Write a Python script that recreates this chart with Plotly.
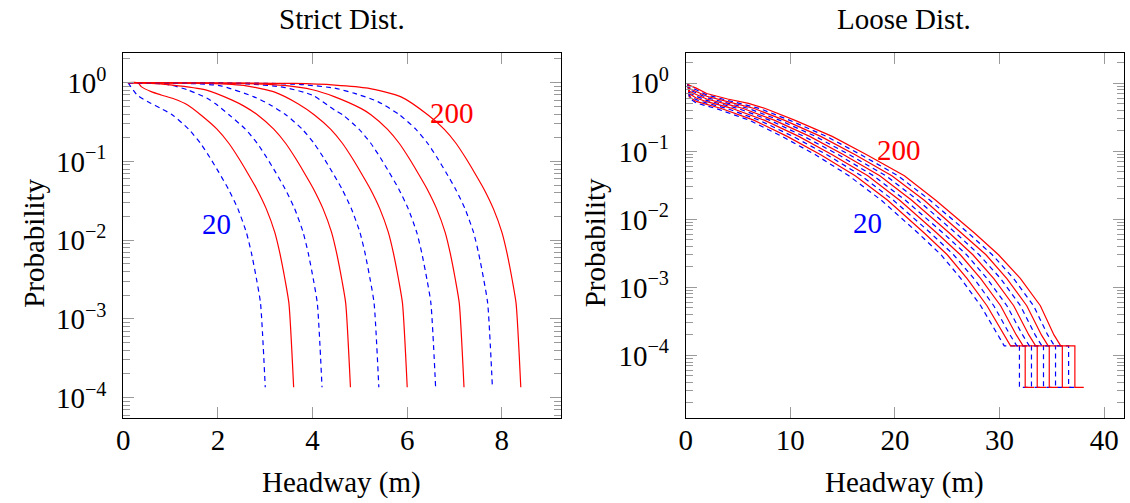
import plotly.graph_objects as go

RED = "#ff0000"
BLUE = "#0000ff"
FONT = "Liberation Serif, DejaVu Serif, serif"
FS = 29

# ---------------- Strict Dist. (left) ----------------
strict_n20_x = [0.1, 0.3, 0.55, 0.8, 1.04, 1.38, 1.63, 1.83, 2.02, 2.22, 2.42, 2.60, 2.71, 2.82, 2.90, 3.0]
strict_n20_y = [1.0, 0.69, 0.56, 0.47, 0.389, 0.257, 0.170, 0.112, 0.0724, 0.0447, 0.0251, 0.0126, 0.00676, 0.00309, 0.00158, 0.000135]

strict_n40_x = [0.1, 0.31, 0.38, 0.59, 0.80, 1.08, 1.36, 1.64, 1.98, 2.23, 2.43, 2.62, 2.82, 3.02, 3.2, 3.31, 3.42, 3.5, 3.6]
strict_n40_y = [1.0, 1.0, 0.891, 0.769, 0.698, 0.621, 0.521, 0.389, 0.257, 0.170, 0.112, 0.0724, 0.0447, 0.0251, 0.0126, 0.00676, 0.00309, 0.00158, 0.000135]

strict_n60_x = [0.1, 0.6, 1.0, 1.36, 1.78, 1.95, 2.24, 2.58, 2.83, 3.03, 3.22, 3.42, 3.62, 3.8, 3.91, 4.02, 4.1, 4.2]
strict_n60_y = [1.0, 0.989, 0.933, 0.81, 0.63, 0.54, 0.389, 0.257, 0.170, 0.112, 0.0724, 0.0447, 0.0251, 0.0126, 0.00676, 0.00309, 0.00158, 0.000135]

strict_n80_x = [0.1, 0.5, 1.04, 1.74, 2.30, 2.56, 2.84, 3.18, 3.43, 3.63, 3.82, 4.02, 4.22, 4.4, 4.51, 4.62, 4.7, 4.8]
strict_n80_y = [1.0, 0.989, 0.933, 0.81, 0.60, 0.50, 0.389, 0.257, 0.170, 0.112, 0.0724, 0.0447, 0.0251, 0.0126, 0.00676, 0.00309, 0.00158, 0.000135]

strict_n100_x = [0.1, 1.4, 2.06, 2.76, 3.1, 3.44, 3.78, 4.03, 4.23, 4.42, 4.62, 4.82, 5.0, 5.11, 5.22, 5.3, 5.4]
strict_n100_y = [1.0, 0.977, 0.912, 0.661, 0.525, 0.389, 0.257, 0.170, 0.112, 0.0724, 0.0447, 0.0251, 0.0126, 0.00676, 0.00309, 0.00158, 0.000135]

strict_n120_x = [0.1, 1.8, 2.6, 3.2, 3.7, 4.04, 4.38, 4.63, 4.83, 5.02, 5.22, 5.42, 5.6, 5.71, 5.82, 5.9, 6.0]
strict_n120_y = [1.0, 0.977, 0.912, 0.759, 0.537, 0.389, 0.257, 0.170, 0.112, 0.0724, 0.0447, 0.0251, 0.0126, 0.00676, 0.00309, 0.00158, 0.000135]

strict_n140_x = [0.1, 2.6, 3.4, 4.0, 4.47, 4.64, 4.98, 5.23, 5.43, 5.62, 5.82, 6.02, 6.2, 6.31, 6.42, 6.5, 6.6]
strict_n140_y = [1.0, 0.966, 0.871, 0.692, 0.447, 0.389, 0.257, 0.170, 0.112, 0.0724, 0.0447, 0.0251, 0.0126, 0.00676, 0.00309, 0.00158, 0.000135]

strict_n160_x = [0.1, 2.5, 3.4, 4.0, 4.47, 5.03, 5.24, 5.58, 5.83, 6.03, 6.22, 6.42, 6.62, 6.8, 6.91, 7.02, 7.1, 7.2]
strict_n160_y = [1.0, 0.977, 0.923, 0.813, 0.661, 0.468, 0.389, 0.257, 0.170, 0.112, 0.0724, 0.0447, 0.0251, 0.0126, 0.00676, 0.00309, 0.00158, 0.000135]

strict_n180_x = [0.1, 3.0, 3.8, 4.47, 4.89, 5.38, 5.84, 6.18, 6.43, 6.63, 6.82, 7.02, 7.22, 7.4, 7.51, 7.62, 7.7, 7.8]
strict_n180_y = [1.0, 0.982, 0.944, 0.851, 0.731, 0.575, 0.389, 0.257, 0.170, 0.112, 0.0724, 0.0447, 0.0251, 0.0126, 0.00676, 0.00309, 0.00158, 0.000135]

strict_n200_x = [0.1, 3.6, 4.47, 5.17, 5.87, 6.44, 6.78, 7.03, 7.23, 7.42, 7.62, 7.82, 8.0, 8.11, 8.22, 8.3, 8.4]
strict_n200_y = [1.0, 0.977, 0.933, 0.851, 0.661, 0.389, 0.257, 0.170, 0.112, 0.0724, 0.0447, 0.0251, 0.0126, 0.00676, 0.00309, 0.00158, 0.000135]

# ---------------- Loose Dist. (right) ----------------
loose_head_x = [0.19, 0.35, 1.0, 2.0]
loose_head_x4 = [0.19, 0.35, 1.0, 2.0, 4.0]
loose_head_x6 = [0.19, 0.35, 1.0, 2.0, 4.0, 6.0]
loose_body_p = [0.427, 0.288, 0.166, 0.0891, 0.0437, 0.0191, 0.00631, 0.00302, 0.00135,
                0.000537, 0.000200, 0.000138, 0.000138, 0.0000339, 0.0000339]

loose_n20_hp = [1.0, 0.603, 0.513, 0.462]
loose_n20_bx = [2.9, 6.05, 9.2, 12.4, 15.6, 18.7, 22.2, 24.4, 26.3, 28.2, 29.8, 30.45, 31.9, 31.9, 32.75]
loose_n40_hp = [1.0, 0.631, 0.543, 0.490]
loose_n40_bx = [3.4, 6.5, 9.7, 12.9, 16.2, 19.3, 22.8, 25.0, 26.9, 28.8, 30.4, 31.05, 32.45, 32.45, 33.3]
loose_n60_hp = [1.0, 0.661, 0.575, 0.513]
loose_n60_bx = [3.95, 7.0, 10.25, 13.5, 16.8, 19.85, 23.4, 25.6, 27.55, 29.45, 31.0, 31.65, 33.05, 33.05, 33.9]
loose_n80_hp = [1.0, 0.700, 0.610, 0.537, 0.447]
loose_n80_bx = [4.45, 7.5, 10.8, 14.0, 17.4, 20.45, 24.0, 26.25, 28.2, 30.1, 31.6, 32.25, 33.6, 33.6, 34.45]
loose_n100_hp = [1.0, 0.733, 0.646, 0.562, 0.468]
loose_n100_bx = [5.0, 8.0, 11.3, 14.6, 17.95, 21.0, 24.6, 26.85, 28.8, 30.7, 32.2, 32.85, 34.2, 34.2, 35.05]
loose_n120_hp = [1.0, 0.767, 0.684, 0.589, 0.490]
loose_n120_bx = [5.5, 8.45, 11.85, 15.1, 18.55, 21.6, 25.2, 27.45, 29.45, 31.35, 32.8, 33.45, 34.75, 34.75, 35.6]
loose_n140_hp = [1.0, 0.804, 0.724, 0.617, 0.513]
loose_n140_bx = [6.0, 8.95, 12.4, 15.65, 19.15, 22.2, 25.8, 28.05, 30.1, 32.0, 33.4, 34.05, 35.35, 35.35, 36.2]
loose_n160_hp = [1.0, 0.841, 0.759, 0.646, 0.537]
loose_n160_bx = [6.55, 9.4, 12.9, 16.2, 19.7, 22.8, 26.4, 28.7, 30.7, 32.6, 34.0, 34.65, 36.0, 36.0, 36.85]
loose_n180_hp = [1.0, 0.891, 0.804, 0.676, 0.562, 0.468]
loose_n180_bx = [7.05, 9.9, 13.45, 16.75, 20.3, 23.35, 27.0, 29.3, 31.35, 33.25, 34.6, 35.25, 36.6, 36.6, 37.45]
loose_n200_hp = [1.0, 0.933, 0.851, 0.708, 0.589, 0.507]
loose_n200_bx = [7.6, 10.4, 14.0, 17.3, 20.9, 23.9, 27.6, 29.9, 32.0, 33.9, 35.2, 35.85, 37.2, 37.2, 38.05]

strict_series = [
    (strict_n20_x, strict_n20_y, BLUE), (strict_n40_x, strict_n40_y, RED),
    (strict_n60_x, strict_n60_y, BLUE), (strict_n80_x, strict_n80_y, RED),
    (strict_n100_x, strict_n100_y, BLUE), (strict_n120_x, strict_n120_y, RED),
    (strict_n140_x, strict_n140_y, BLUE), (strict_n160_x, strict_n160_y, RED),
    (strict_n180_x, strict_n180_y, BLUE), (strict_n200_x, strict_n200_y, RED),
]
loose_series = [
    (loose_head_x, loose_n20_hp, loose_n20_bx, BLUE), (loose_head_x, loose_n40_hp, loose_n40_bx, RED),
    (loose_head_x, loose_n60_hp, loose_n60_bx, BLUE), (loose_head_x4, loose_n80_hp, loose_n80_bx, RED),
    (loose_head_x4, loose_n100_hp, loose_n100_bx, BLUE), (loose_head_x4, loose_n120_hp, loose_n120_bx, RED),
    (loose_head_x4, loose_n140_hp, loose_n140_bx, BLUE), (loose_head_x4, loose_n160_hp, loose_n160_bx, RED),
    (loose_head_x6, loose_n180_hp, loose_n180_bx, BLUE), (loose_head_x6, loose_n200_hp, loose_n200_bx, RED),
]

def style(color):
    if color == BLUE:
        return dict(color=color, width=1.2, dash="5px,4px")
    return dict(color=color, width=1.2)

fig = go.Figure()
for xs, ys, c in strict_series:
    fig.add_trace(go.Scatter(x=xs, y=ys, mode="lines", xaxis="x", yaxis="y",
                             line=dict(shape="spline", smoothing=0.6, **style(c)),
                             showlegend=False, hoverinfo="skip"))
for hx, hp, bx, c in loose_series:
    fig.add_trace(go.Scatter(x=hx + bx, y=hp + loose_body_p, mode="lines", xaxis="x2", yaxis="y2",
                             line=style(c), showlegend=False, hoverinfo="skip"))

W, H = 1130, 503
def px_x(p):
    return p / W
def px_y(p):
    return 1 - p / H

decades = [1e-4, 1e-3, 1e-2, 1e-1, 1]
decade_text = ["10<sup>−4</sup>", "10<sup>−3</sup>", "10<sup>−2</sup>", "10<sup>−1</sup>", "10<sup>0</sup>"]
minor_vals = [m * 10.0 ** e for e in range(-6, 1) for m in range(2, 10)]

TICKC = "#9a9a9a"
common_x = dict(showline=True, linecolor="black", linewidth=1, mirror="allticks",
                ticks="inside", ticklen=11, tickcolor=TICKC, tickwidth=1,
                showgrid=False, zeroline=False, tickfont=dict(family=FONT, size=FS, color="black"),
                ticklabelstandoff=-4)
common_y = dict(showline=True, linecolor="black", linewidth=1, mirror="allticks", type="log",
                ticks="inside", ticklen=11, tickcolor=TICKC, tickwidth=1,
                showgrid=False, zeroline=False, tickfont=dict(family=FONT, size=FS, color="black"),
                tickmode="array", tickvals=decades, ticktext=decade_text,
                minor=dict(ticks="inside", ticklen=7, tickcolor=TICKC, tickwidth=1,
                           tickmode="array", tickvals=minor_vals, showgrid=False),
                ticklabelstandoff=10)

fig.update_layout(
    width=W, height=H, margin=dict(l=0, r=0, t=0, b=0),
    paper_bgcolor="white", plot_bgcolor="white",
    font=dict(family=FONT, size=FS, color="black"),
    xaxis=dict(domain=[px_x(117), px_x(557)], range=[0, 9.24], anchor="y",
               tickmode="array", tickvals=[0, 2, 4, 6, 8], **common_x),
    yaxis=dict(domain=[px_y(418), px_y(53)], range=[-4.26, 0.377], anchor="x", **common_y),
    xaxis2=dict(domain=[px_x(683), px_x(1124)], range=[0, 41.9], anchor="y2",
                tickmode="array", tickvals=[0, 10, 20, 30, 40], **common_x),
    yaxis2=dict(domain=[px_y(418), px_y(53)], range=[-4.92, 0.446], anchor="x2", **common_y),
)

ann = []
ann.append(dict(text="Strict Dist.", xref="paper", yref="paper", x=px_x(337), y=px_y(19),
                showarrow=False, font=dict(family=FONT, size=FS), xanchor="center", yanchor="middle"))
ann.append(dict(text="Loose Dist.", xref="paper", yref="paper", x=px_x(903), y=px_y(19),
                showarrow=False, font=dict(family=FONT, size=FS), xanchor="center", yanchor="middle"))
for cx in (337, 903):
    ann.append(dict(text="Headway (m)", xref="paper", yref="paper", x=px_x(cx), y=px_y(482),
                    showarrow=False, font=dict(family=FONT, size=FS), xanchor="center", yanchor="middle"))
for cx in (27, 592):
    ann.append(dict(text="Probability", xref="paper", yref="paper", x=px_x(cx), y=px_y(243),
                    showarrow=False, textangle=-90, font=dict(family=FONT, size=FS),
                    xanchor="center", yanchor="middle"))
ann.append(dict(text="200", xref="x", yref="y", x=6.95, y=-0.39, showarrow=False,
                font=dict(family=FONT, size=FS, color=RED)))
ann.append(dict(text="20", xref="x", yref="y", x=1.97, y=-1.79, showarrow=False,
                font=dict(family=FONT, size=FS, color=BLUE)))
ann.append(dict(text="200", xref="x2", yref="y2", x=20.4, y=-0.98, showarrow=False,
                font=dict(family=FONT, size=FS, color=RED)))
ann.append(dict(text="20", xref="x2", yref="y2", x=17.4, y=-2.06, showarrow=False,
                font=dict(family=FONT, size=FS, color=BLUE)))
fig.update_layout(annotations=ann)

fig.write_html("out.html")
